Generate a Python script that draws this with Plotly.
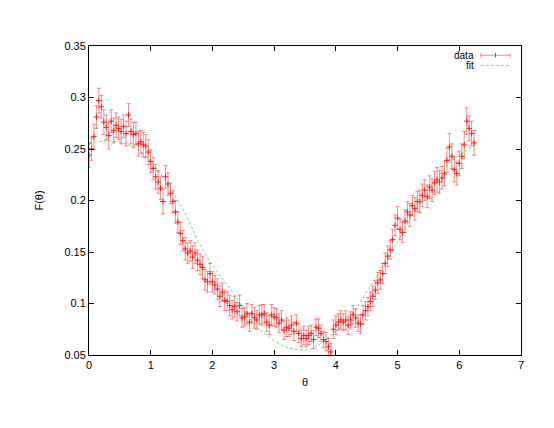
import plotly.graph_objects as go

# measured points (theta, F(theta), error)
theta = [
    0.00, 0.04, 0.08, 0.12, 0.16, 0.20, 0.24, 0.28, 0.32, 0.36,
    0.40, 0.44, 0.48, 0.52, 0.56, 0.60, 0.64, 0.68, 0.72, 0.76,
    0.80, 0.84, 0.88, 0.92, 0.96, 1.00, 1.04, 1.08, 1.12, 1.16,
    1.20, 1.24, 1.28, 1.32, 1.36, 1.40, 1.44, 1.48, 1.52, 1.56,
    1.60, 1.64, 1.68, 1.72, 1.76, 1.80, 1.84, 1.88, 1.92, 1.96,
    2.00, 2.04, 2.08, 2.12, 2.16, 2.20, 2.24, 2.28, 2.32, 2.36,
    2.40, 2.44, 2.48, 2.52, 2.56, 2.60, 2.64, 2.68, 2.72, 2.76,
    2.80, 2.84, 2.88, 2.92, 2.96, 3.00, 3.04, 3.08, 3.12, 3.16,
    3.20, 3.24, 3.28, 3.32, 3.36, 3.40, 3.44, 3.48, 3.52, 3.56,
    3.60, 3.64, 3.68, 3.72, 3.76, 3.80, 3.84, 3.88, 3.92, 3.96,
    4.00, 4.04, 4.08, 4.12, 4.16, 4.20, 4.24, 4.28, 4.32, 4.36,
    4.40, 4.44, 4.48, 4.52, 4.56, 4.60, 4.64, 4.68, 4.72, 4.76,
    4.80, 4.84, 4.88, 4.92, 4.96, 5.00, 5.04, 5.08, 5.12, 5.16,
    5.20, 5.24, 5.28, 5.32, 5.36, 5.40, 5.44, 5.48, 5.52, 5.56,
    5.60, 5.64, 5.68, 5.72, 5.76, 5.80, 5.84, 5.88, 5.92, 5.96,
    6.00, 6.04, 6.08, 6.12, 6.16, 6.20, 6.24,
]
f_data = [
    0.244, 0.250, 0.262, 0.281, 0.297, 0.291, 0.276, 0.271, 0.263, 0.277,
    0.268, 0.273, 0.270, 0.267, 0.272, 0.265, 0.283, 0.267, 0.264, 0.265,
    0.255, 0.257, 0.254, 0.253, 0.247, 0.238, 0.231, 0.223, 0.218, 0.212,
    0.199, 0.223, 0.216, 0.207, 0.199, 0.189, 0.179, 0.168, 0.161, 0.153,
    0.149, 0.151, 0.145, 0.149, 0.142, 0.138, 0.135, 0.123, 0.121, 0.129,
    0.121, 0.118, 0.114, 0.107, 0.111, 0.103, 0.102, 0.098, 0.094, 0.097,
    0.092, 0.098, 0.086, 0.087, 0.090, 0.082, 0.090, 0.086, 0.084, 0.089,
    0.089, 0.090, 0.082, 0.079, 0.089, 0.087, 0.086, 0.081, 0.084, 0.074,
    0.077, 0.076, 0.079, 0.073, 0.081, 0.071, 0.066, 0.069, 0.066, 0.069,
    0.071, 0.065, 0.077, 0.076, 0.071, 0.065, 0.063, 0.058, 0.053, 0.075,
    0.079, 0.082, 0.084, 0.082, 0.084, 0.079, 0.084, 0.089, 0.086, 0.081,
    0.080, 0.089, 0.093, 0.097, 0.102, 0.107, 0.113, 0.120, 0.123, 0.129,
    0.139, 0.146, 0.152, 0.162, 0.176, 0.183, 0.172, 0.169, 0.180, 0.189,
    0.186, 0.195, 0.192, 0.199, 0.199, 0.205, 0.210, 0.204, 0.213, 0.210,
    0.217, 0.220, 0.218, 0.222, 0.226, 0.239, 0.252, 0.243, 0.230, 0.226,
    0.236, 0.243, 0.254, 0.277, 0.270, 0.265, 0.256,
]
f_err = [
    0.012, 0.011, 0.012, 0.011, 0.012, 0.011, 0.012, 0.012, 0.013, 0.011,
    0.012, 0.012, 0.011, 0.012, 0.011, 0.012, 0.011, 0.012, 0.012, 0.011,
    0.012, 0.011, 0.012, 0.011, 0.012, 0.011, 0.011, 0.012, 0.011, 0.011,
    0.012, 0.011, 0.011, 0.010, 0.011, 0.011, 0.010, 0.011, 0.010, 0.011,
    0.010, 0.010, 0.011, 0.010, 0.010, 0.010, 0.011, 0.010, 0.010, 0.010,
    0.010, 0.009, 0.010, 0.010, 0.009, 0.010, 0.009, 0.010, 0.009, 0.010,
    0.009, 0.010, 0.009, 0.009, 0.010, 0.009, 0.009, 0.010, 0.009, 0.009,
    0.010, 0.009, 0.009, 0.009, 0.010, 0.009, 0.009, 0.009, 0.009, 0.009,
    0.009, 0.008, 0.009, 0.009, 0.008, 0.009, 0.008, 0.009, 0.008, 0.009,
    0.008, 0.009, 0.008, 0.009, 0.008, 0.008, 0.009, 0.008, 0.008, 0.009,
    0.009, 0.008, 0.009, 0.008, 0.009, 0.009, 0.008, 0.009, 0.009, 0.008,
    0.009, 0.009, 0.009, 0.009, 0.009, 0.010, 0.009, 0.010, 0.009, 0.010,
    0.010, 0.010, 0.009, 0.010, 0.010, 0.011, 0.010, 0.010, 0.011, 0.010,
    0.011, 0.010, 0.011, 0.010, 0.011, 0.011, 0.010, 0.011, 0.011, 0.011,
    0.011, 0.012, 0.011, 0.011, 0.012, 0.012, 0.013, 0.012, 0.012, 0.011,
    0.012, 0.012, 0.013, 0.013, 0.012, 0.012, 0.012,
]

theta_fit = [0.0, 0.3, 0.6, 0.9, 1.25, 1.57, 1.75, 2.0, 2.35, 2.65, 3.0,
             3.3, 3.6, 3.9, 4.23, 4.55, 4.82, 5.0, 5.28, 5.6, 5.93, 6.26]
f_fit = [0.255, 0.258, 0.255, 0.244, 0.218, 0.186, 0.163, 0.137, 0.109, 0.082, 0.064,
         0.056, 0.056, 0.068, 0.087, 0.116, 0.141, 0.160, 0.190, 0.219, 0.241, 0.254]

y_ticks = [0.05, 0.1, 0.15, 0.2, 0.25, 0.3, 0.35]
y_labels = ["0.05", "0.1", "0.15", "0.2", "0.25", "0.3", "0.35"]

BAR = "rgba(255,40,40,0.55)"
MARK = "#ff1a1a"
GREEN = "#70e070"

fig = go.Figure()

fig.add_trace(
    go.Scatter(
        x=theta_fit,
        y=f_fit,
        mode="lines",
        line=dict(color=GREEN, width=1, dash="3px,2px", shape="spline", smoothing=1.0),
        name="fit",
        showlegend=False,
    )
)
fig.add_trace(
    go.Scatter(
        x=theta,
        y=f_data,
        mode="markers",
        marker=dict(symbol="cross-thin", size=4, color=MARK, line=dict(color=MARK, width=1)),
        error_y=dict(type="data", array=f_err, color=BAR, thickness=1, width=2),
        name="data",
        showlegend=False,
    )
)

# gnuplot style key, top right
font = dict(family="Liberation Sans, Arial, sans-serif", size=11, color="black")
key_font = dict(family="Liberation Sans, Arial, sans-serif", size=10, color="black")
key_x0, key_x1 = 0.907, 0.975
fig.add_annotation(x=0.895, y=0.970, xref="paper", yref="paper", text="data",
                   showarrow=False, xanchor="right", yanchor="middle", font=key_font)
fig.add_annotation(x=0.895, y=0.937, xref="paper", yref="paper", text="fit",
                   showarrow=False, xanchor="right", yanchor="middle", font=key_font)
fig.add_shape(type="line", xref="paper", yref="paper", x0=key_x0, x1=key_x1, y0=0.970, y1=0.970,
              line=dict(color=BAR, width=1))
for kx in (key_x0, key_x1):
    fig.add_shape(type="line", xref="paper", yref="paper", x0=kx, x1=kx, y0=0.963, y1=0.977,
                  line=dict(color=BAR, width=1))
fig.add_shape(type="line", xref="paper", yref="paper", x0=0.941, x1=0.941, y0=0.963, y1=0.977,
              line=dict(color=MARK, width=1))
fig.add_shape(type="line", xref="paper", yref="paper", x0=key_x0, x1=key_x1, y0=0.937, y1=0.937,
              line=dict(color=GREEN, width=1, dash="3px,2px"))

axis_common = dict(
    showline=True,
    linecolor="black",
    linewidth=1,
    mirror="allticks",
    ticks="inside",
    ticklen=5,
    tickcolor="black",
    showgrid=False,
    zeroline=False,
    tickfont=font,
)

# page body has an 8px margin, so the figure is a bit smaller than the window
fig.update_layout(
    width=538,
    height=412,
    margin=dict(l=81, r=25, t=38, b=65),
    paper_bgcolor="white",
    plot_bgcolor="white",
    font=font,
    showlegend=False,
    xaxis=dict(range=[0, 7], dtick=1, title=dict(text="θ", font=font, standoff=8), **axis_common),
    yaxis=dict(range=[0.05, 0.35], tickvals=y_ticks, ticktext=y_labels,
               title=dict(text="F(θ)", font=font, standoff=18), **axis_common),
)

fig.write_html("out.html")
